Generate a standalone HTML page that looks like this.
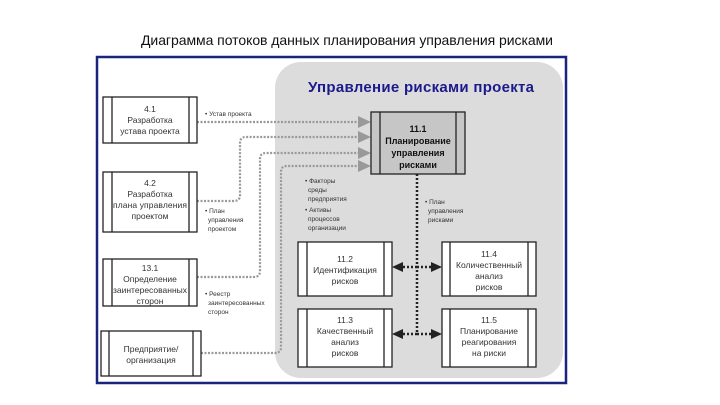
<!DOCTYPE html>
<html><head><meta charset="utf-8"><style>
html,body{margin:0;padding:0;background:#fff;}
svg{display:block;font-family:"Liberation Sans",sans-serif;}
.s{font-size:8.5px;fill:#333;text-anchor:middle;}
.l{font-size:6.5px;fill:#333;}
</style></head><body>
<svg width="720" height="405" viewBox="0 0 720 405" xmlns="http://www.w3.org/2000/svg">
<text x="347" y="45" font-size="14" text-anchor="middle" textLength="412" fill="#111">Диаграмма потоков данных планирования управления рисками</text>
<rect x="97" y="57" width="469" height="326" fill="#fff" stroke="#1a237e" stroke-width="2.5"/>
<rect x="275" y="62" width="288" height="316" rx="26" fill="#dcdcdc"/>
<text x="421" y="92" font-size="15" font-weight="bold" fill="#1a1a8c" text-anchor="middle" textLength="226">Управление рисками проекта</text>

<g fill="none" stroke="#999" stroke-width="2.2" stroke-dasharray="2,1.5">
<path d="M197,122H358"/>
<path d="M197,201H234Q240,201 240,195V143Q240,137 246,137H358"/>
<path d="M197,277H254Q260,277 260,271V159Q260,153 266,153H358"/>
<path d="M201,353H275Q281,353 281,347V172Q281,166 287,166H358"/>
</g>
<g fill="#999"><path d="M358,116L371,122L358,128z"/><path d="M358,131L371,137L358,143z"/><path d="M358,147L371,153L358,159z"/><path d="M358,160L371,166L358,172z"/></g>

<g stroke="#222" stroke-width="2.5" stroke-dasharray="2,2" fill="none">
<path d="M417,174V334"/>
<path d="M417,267H402"/><path d="M417,267H432"/>
<path d="M417,334H402"/><path d="M417,334H432"/>
</g>
<g fill="#222"><path d="M392,267L403,262L403,272z"/><path d="M442,267L431,262L431,272z"/><path d="M392,334L403,329L403,339z"/><path d="M442,334L431,329L431,339z"/></g>

<g stroke="#222" stroke-width="1.3">
<rect x="371" y="112" width="94" height="62" fill="#c6c6c6"/>
<line x1="380" y1="112" x2="380" y2="174"/><line x1="456" y1="112" x2="456" y2="174"/>
<rect x="103" y="97" width="94" height="46" fill="#fff"/>
<line x1="112" y1="97" x2="112" y2="143"/><line x1="189" y1="97" x2="189" y2="143"/>
<rect x="103" y="172" width="94" height="60" fill="#fff"/>
<line x1="112" y1="172" x2="112" y2="232"/><line x1="189" y1="172" x2="189" y2="232"/>
<rect x="103" y="259" width="94" height="47" fill="#fff"/>
<line x1="112" y1="259" x2="112" y2="306"/><line x1="189" y1="259" x2="189" y2="306"/>
<rect x="101" y="331" width="100" height="45" fill="#fff"/>
<line x1="109" y1="331" x2="109" y2="376"/><line x1="193" y1="331" x2="193" y2="376"/>
<rect x="298" y="242" width="94" height="54" fill="#fff"/>
<line x1="307" y1="242" x2="307" y2="296"/><line x1="384" y1="242" x2="384" y2="296"/>
<rect x="298" y="309" width="94" height="58" fill="#fff"/>
<line x1="307" y1="309" x2="307" y2="367"/><line x1="384" y1="309" x2="384" y2="367"/>
<rect x="442" y="242" width="94" height="54" fill="#fff"/>
<line x1="450" y1="242" x2="450" y2="296"/><line x1="528" y1="242" x2="528" y2="296"/>
<rect x="442" y="309" width="94" height="58" fill="#fff"/>
<line x1="450" y1="309" x2="450" y2="367"/><line x1="528" y1="309" x2="528" y2="367"/>
</g>

<g font-size="9" font-weight="bold" fill="#111" text-anchor="middle">
<text x="418" y="132">11.1</text><text x="418" y="144">Планирование</text><text x="418" y="156">управления</text><text x="418" y="168">рисками</text>
</g>
<g class="s">
<text x="150" y="112">4.1</text><text x="150" y="123">Разработка</text><text x="150" y="134">устава проекта</text>
<text x="150" y="186">4.2</text><text x="150" y="197">Разработка</text><text x="150" y="208" textLength="74">плана управления</text><text x="150" y="219">проектом</text>
<text x="150" y="271">13.1</text><text x="150" y="282">Определение</text><text x="150" y="293" textLength="74">заинтересованных</text><text x="150" y="304">сторон</text>
<text x="151" y="352">Предприятие/</text><text x="151" y="363">организация</text>
<text x="345" y="262">11.2</text><text x="345" y="273">Идентификация</text><text x="345" y="284">рисков</text>
<text x="345" y="323">11.3</text><text x="345" y="334">Качественный</text><text x="345" y="345">анализ</text><text x="345" y="356">рисков</text>
<text x="489" y="257">11.4</text><text x="489" y="268">Количественный</text><text x="489" y="279">анализ</text><text x="489" y="290">рисков</text>
<text x="489" y="323">11.5</text><text x="489" y="334">Планирование</text><text x="489" y="345">реагирования</text><text x="489" y="356">на риски</text>
</g>
<g class="l">
<text x="205" y="116">• Устав проекта</text>
<text x="205" y="213">• План</text><text x="208" y="222">управления</text><text x="208" y="231">проектом</text>
<text x="205" y="296">• Реестр</text><text x="208" y="305">заинтересованных</text><text x="208" y="314">сторон</text>
<text x="305" y="183">• Факторы</text><text x="308" y="192">среды</text><text x="308" y="201">предприятия</text>
<text x="305" y="212">• Активы</text><text x="308" y="221">процессов</text><text x="308" y="230">организации</text>
<text x="425" y="204">• План</text><text x="428" y="213">управления</text><text x="428" y="222">рисками</text>
</g>
</svg>
</body></html>
